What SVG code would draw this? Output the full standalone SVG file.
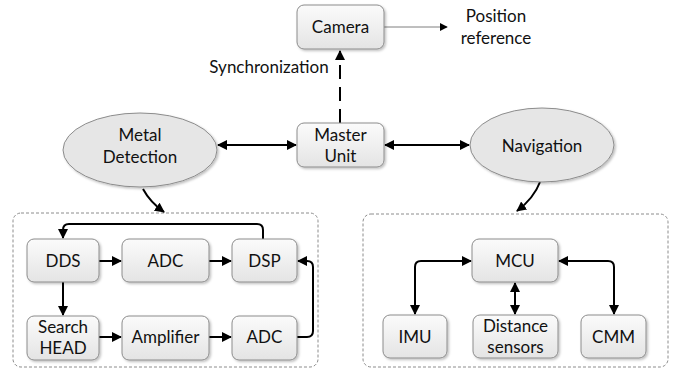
<svg xmlns="http://www.w3.org/2000/svg" width="684" height="370" viewBox="0 0 684 370">
<defs>
<linearGradient id="g" x1="0" y1="0" x2="0" y2="1">
<stop offset="0" stop-color="#fbfbfb"/>
<stop offset="1" stop-color="#e4e4e4"/>
</linearGradient>
<filter id="sh" x="-10%" y="-10%" width="130%" height="140%">
<feDropShadow dx="1.5" dy="1.5" stdDeviation="1" flood-color="#000" flood-opacity="0.25"/>
</filter>
<marker id="a" viewBox="0 0 10 10" refX="9" refY="5" markerWidth="10" markerHeight="10" markerUnits="userSpaceOnUse" orient="auto-start-reverse">
<path d="M0,0 L10,5 L0,10 Z" fill="#000"/>
</marker>
<marker id="at" viewBox="0 0 10 10" refX="9" refY="5" markerWidth="8" markerHeight="8" markerUnits="userSpaceOnUse" orient="auto">
<path d="M0,0 L10,5 L0,10 Z" fill="#000"/>
</marker>
</defs>
<style>
.box{fill:url(#g);stroke:#8c8c8c;stroke-width:1;filter:url(#sh)}
.ell{fill:#e6e6e6;stroke:#8c8c8c;stroke-width:1;filter:url(#sh)}
.grp{fill:none;stroke:#8c8c8c;stroke-width:1;stroke-dasharray:3,2}
text{font-family:Lato,"Open Sans",sans-serif;font-size:17px;fill:#111;text-anchor:middle}
.c{fill:none;stroke:#000;stroke-width:2}
</style>
<g id="containers">
<rect class="grp" x="13" y="213" width="305" height="154" rx="8"/>
<rect class="grp" x="363" y="214" width="305" height="153" rx="8"/>
</g>
<g id="connectors">
<line x1="384" y1="27" x2="447" y2="27" stroke="#7f7f7f" stroke-width="1" marker-end="url(#at)"/>
<line class="c" x1="340" y1="123" x2="340" y2="51" stroke-dasharray="14,8" marker-end="url(#a)"/>
<line class="c" x1="218" y1="145" x2="296" y2="145" marker-start="url(#a)" marker-end="url(#a)"/>
<line class="c" x1="385" y1="145" x2="469" y2="145" marker-start="url(#a)" marker-end="url(#a)"/>
<path class="c" d="M143,189 Q150,202 164,212" marker-end="url(#a)"/>
<path class="c" d="M540,182 Q534,198 517,211" marker-end="url(#a)"/>
<line class="c" x1="99" y1="261" x2="121" y2="261" marker-end="url(#a)"/>
<line class="c" x1="209" y1="261" x2="231" y2="261" marker-end="url(#a)"/>
<line class="c" x1="63" y1="282" x2="63" y2="315" marker-end="url(#a)"/>
<line class="c" x1="99" y1="337" x2="121" y2="337" marker-end="url(#a)"/>
<line class="c" x1="209" y1="337" x2="231" y2="337" marker-end="url(#a)"/>
<path class="c" d="M297,337 H307 Q313,337 313,331 V267 Q313,261 307,261 H298" marker-end="url(#a)"/>
<path class="c" d="M263,239 V230 Q263,224 257,224 H69 Q63,224 63,230 V238" marker-end="url(#a)"/>
<path class="c" d="M471,261 H421 Q415,261 415,267 V314" marker-start="url(#a)" marker-end="url(#a)"/>
<path class="c" d="M559,261 H608 Q614,261 614,267 V314" marker-start="url(#a)" marker-end="url(#a)"/>
<line class="c" x1="515" y1="283" x2="515" y2="314" marker-start="url(#a)" marker-end="url(#a)"/>
</g>
<g id="camera"><rect class="box" x="297" y="5" width="87" height="44" rx="7"/><text x="340.5" y="33">Camera</text></g>
<g id="position-reference"><text x="496" y="22">Position</text><text x="496" y="44">reference</text></g>
<g id="synchronization"><text x="269" y="73">Synchronization</text></g>
<g id="master-unit"><rect class="box" x="297" y="123" width="87" height="44" rx="7"/><text x="340.5" y="141">Master</text><text x="340.5" y="162">Unit</text></g>
<g id="metal-detection"><ellipse class="ell" cx="140" cy="150" rx="77" ry="37"/><text x="140" y="141">Metal</text><text x="140" y="163">Detection</text></g>
<g id="navigation"><ellipse class="ell" cx="542" cy="145" rx="72" ry="37"/><text x="542" y="152">Navigation</text></g>
<g id="dds"><rect class="box" x="27" y="239" width="72" height="43" rx="7"/><text x="63" y="267">DDS</text></g>
<g id="adc1"><rect class="box" x="122" y="239" width="87" height="43" rx="7"/><text x="165.5" y="267">ADC</text></g>
<g id="dsp"><rect class="box" x="232" y="239" width="65" height="43" rx="7"/><text x="264.5" y="267">DSP</text></g>
<g id="search-head"><rect class="box" x="27" y="316" width="72" height="44" rx="7"/><text x="63" y="333">Search</text><text x="63" y="354">HEAD</text></g>
<g id="amplifier"><rect class="box" x="122" y="316" width="87" height="44" rx="7"/><text x="165.5" y="343">Amplifier</text></g>
<g id="adc2"><rect class="box" x="232" y="316" width="65" height="44" rx="7"/><text x="264.5" y="343">ADC</text></g>
<g id="mcu"><rect class="box" x="472" y="239" width="86" height="43" rx="7"/><text x="515" y="267">MCU</text></g>
<g id="imu"><rect class="box" x="383" y="315" width="64" height="43" rx="7"/><text x="415" y="343">IMU</text></g>
<g id="distance-sensors"><rect class="box" x="473" y="315" width="85" height="43" rx="7"/><text x="515.5" y="332">Distance</text><text x="515.5" y="353">sensors</text></g>
<g id="cmm"><rect class="box" x="581" y="315" width="65" height="43" rx="7"/><text x="613.5" y="343">CMM</text></g>
</svg>
